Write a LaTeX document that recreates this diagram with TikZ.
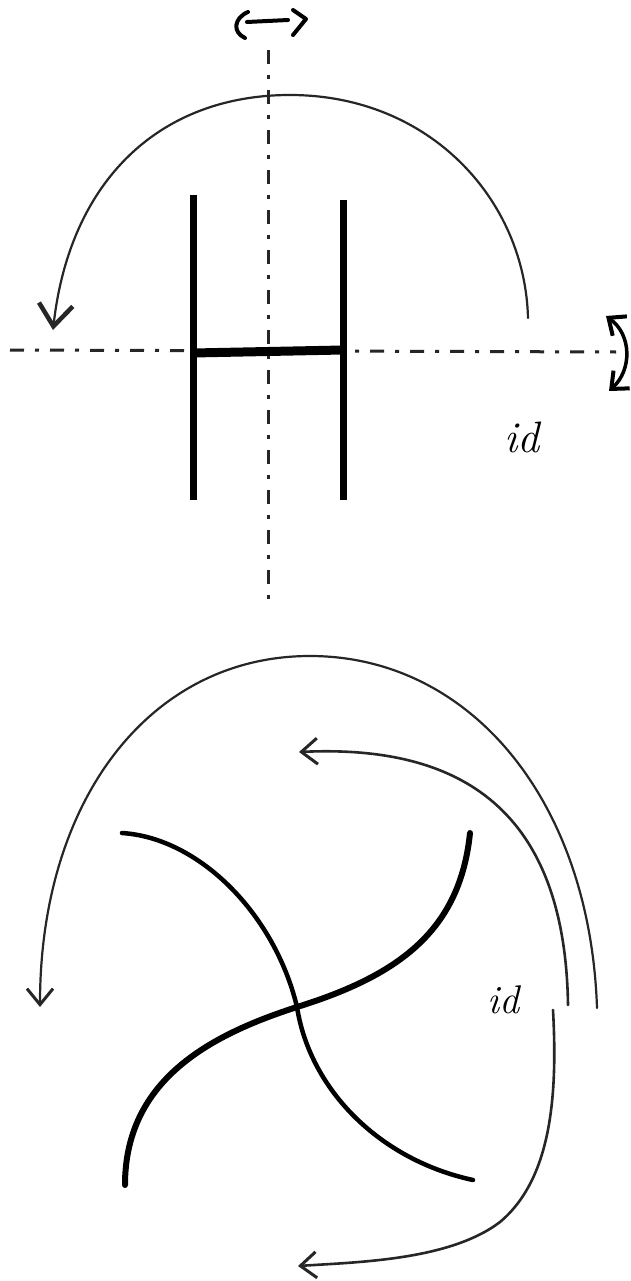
\documentclass[tikz,border=0pt]{standalone}
\usetikzlibrary{arrows.meta}
\begin{document}
\begin{tikzpicture}[x=1pt,y=-1pt,
  thinstroke/.style={line width=2.2pt, draw=black!85, line cap=round},
  hbar/.style={line width=7pt, line cap=butt},
  strand/.style={line width=5pt, line cap=round, line join=round},
  axisline/.style={line width=3pt, draw=black!85, dash pattern=on 14pt off 11pt on 4pt off 11pt},
  bigbarb/.style={-{Straight Barb[length=22pt,width=34pt,line width=4.5pt]}},
  midbarb/.style={-{Straight Barb[length=16pt,width=26pt,line width=3pt]}},
  smallbarb/.style={{Straight Barb[length=14pt,width=24pt,line width=4pt]}-{Straight Barb[length=14pt,width=24pt,line width=4pt]}},
  symb/.style={line width=4pt, line cap=round, line join=round},
  lab/.style={font=\fontsize{44}{48}\selectfont\itshape, inner sep=0pt}]
\useasboundingbox[fill=white] (0,0) rectangle (630,1281);

% ---------- top part ----------
\coordinate (vtop) at (268,50);
\coordinate (vbot) at (268,602);
\coordinate (hl) at (10,350);
\coordinate (hr) at (616,352);
\draw[axisline] (vtop) -- (vbot);
\draw[axisline] (hl) -- (hr);

% symbol above the vertical axis
\draw[symb] (248,12) .. controls (234,18) and (232,32) .. (245,38);
\draw[symb] (247,22) -- (288,20);
\draw[symb] (293,10) -- (306,19) -- (293,35);

% rotation symbol on the right
\coordinate (rs) at (606,316);
\coordinate (re) at (609,391);
\draw[smallbarb, line width=3.5pt, line cap=round] (rs) .. controls (632,335) and (632,370) .. (re);

% the H
\coordinate (la) at (193,195);
\coordinate (lb) at (193,500);
\coordinate (ra) at (343,200);
\coordinate (rb) at (343,500);
\draw[hbar] (la) -- (lb);
\draw[hbar] (ra) -- (rb);
\draw[line width=9pt] (193,353) -- (343,350);

% arc arrow
\coordinate (arcs) at (528,318);
\coordinate (arcp) at (290,95);
\coordinate (arce) at (53,330);
\draw[thinstroke, bigbarb] (arcs) .. controls (525,200) and (430,95) .. (arcp)
      .. controls (160,95) and (70,180) .. (arce);

\node[lab] (id1) at (522,437) {id};

% ---------- bottom part ----------
\coordinate (cx) at (297,1007);
\draw[strand, line width=4.5pt] (122,833) .. controls (200,838) and (275,915) .. (cx)
      .. controls (310,1090) and (380,1160) .. (473,1180);
\draw[strand, line width=6pt] (125,1185) .. controls (125,1080) and (210,1035) .. (cx)
      .. controls (400,975) and (460,930) .. (470,833);

% big outer arc
\coordinate (os) at (597,1008);
\coordinate (op) at (310,656);
\coordinate (oe) at (40,1007);
\draw[thinstroke, midbarb] (os) .. controls (590,800) and (470,656) .. (op)
      .. controls (150,656) and (40,800) .. (oe);

% inner arc
\coordinate (is) at (568,1005);
\coordinate (ie) at (299,752);
\draw[thinstroke, line width=2.6pt, midbarb] (is) .. controls (565,800) and (450,745) .. (ie);

% lower arc
\coordinate (ls) at (553,1010);
\coordinate (lm) at (500,1222);
\coordinate (le) at (298,1266);
\draw[thinstroke, line width=2.6pt, midbarb] (ls) .. controls (558,1100) and (550,1180) .. (lm)
      .. controls (450,1260) and (360,1262) .. (le);

\node[lab, font=\fontsize{40}{44}\selectfont\itshape] (id2) at (503,1000) {id};
\end{tikzpicture}
\end{document}
